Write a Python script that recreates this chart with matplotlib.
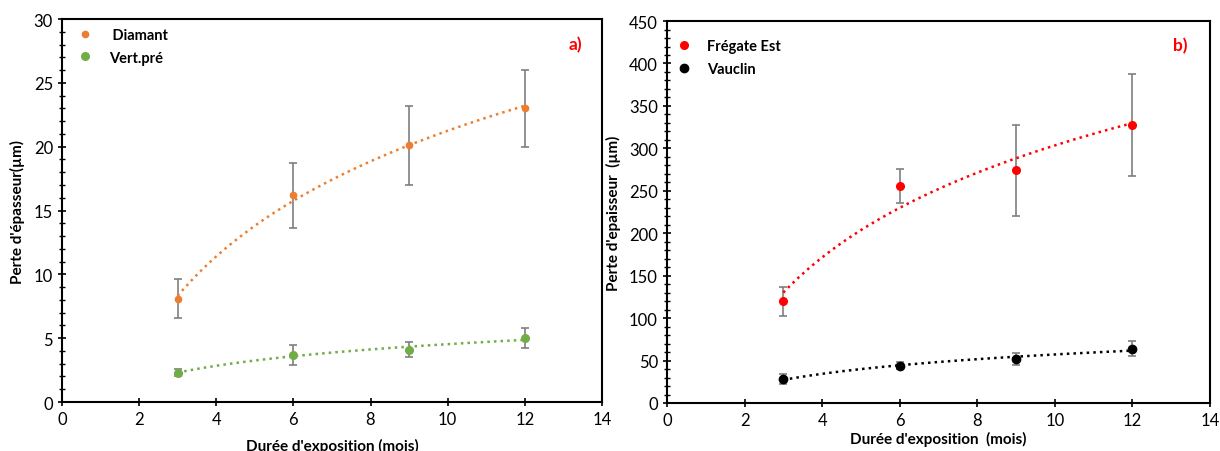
import matplotlib.pyplot as plt
import numpy as np

plt.rcParams['font.family'] = ['Lato', 'DejaVu Sans']

# durations (months)
mois = [3, 6, 9, 12]

# panel a
diamant = [8.1, 16.2, 20.1, 23.0]
diamant_err = [1.5, 2.55, 3.1, 3.0]
vertpre = [2.3, 3.7, 4.1, 5.0]
vertpre_err = [0.3, 0.8, 0.6, 0.8]

# panel b
fregate = [120, 256, 274, 328]
fregate_err = [17, 20, 54, 60]
vauclin = [28, 44, 52, 64]
vauclin_err = [6, 4, 7, 9]

fig = plt.figure(figsize=(12.2, 4.52), dpi=100)
ax1 = fig.add_axes([0.0508, 0.1084, 0.4426, 0.8473])
ax2 = fig.add_axes([0.5467, 0.1062, 0.445, 0.845])


def serie(ax, y, err, color, label, ms=5):
    x = np.array(mois, dtype=float)
    ax.errorbar(x, y, yerr=err, fmt='none', ecolor='#7f7f7f', elinewidth=1.2,
                capsize=3, capthick=1.2, zorder=2)
    ax.plot(x, y, 'o', color=color, ms=ms, label=label, zorder=4, linestyle='none')
    # logarithmic trend line
    a, b = np.polyfit(np.log(x), y, 1)
    xx = np.linspace(3, 12, 200)
    ax.plot(xx, a * np.log(xx) + b, ':', color=color, lw=1.8, zorder=3)


serie(ax1, diamant, diamant_err, '#ED7D31', ' Diamant', ms=4.5)
serie(ax1, vertpre, vertpre_err, '#70AD47', 'Vert.pré', ms=5.5)
serie(ax2, fregate, fregate_err, '#FF0000', 'Frégate Est', ms=5.5)
serie(ax2, vauclin, vauclin_err, '#000000', 'Vauclin', ms=6)

for ax, ymax, ystep, ymin_step in [(ax1, 30, 5, 1), (ax2, 450, 50, 10)]:
    ax.set_xlim(0, 14)
    ax.set_ylim(0, ymax)
    ax.set_xticks(range(0, 15, 2))
    ax.set_yticks(np.arange(0, ymax + 1, ystep))
    ax.set_yticks(np.arange(0, ymax + 1, ymin_step), minor=True)
    ax.tick_params(axis='both', which='major', direction='inout', length=6,
                   width=1.2, labelsize=12, colors='black')
    ax.tick_params(axis='y', which='minor', direction='inout', length=4, width=1)
    for s in ax.spines.values():
        s.set_linewidth(1.5)

ax1.legend(loc='upper left', frameon=False, handletextpad=0.6,
           prop={'weight': 'bold', 'size': 10.5}, borderaxespad=0.2,
           labelspacing=0.6)
ax2.legend(loc='upper left', bbox_to_anchor=(-0.012, 0.975), frameon=False,
           handletextpad=0.6, prop={'weight': 'bold', 'size': 10.5},
           borderaxespad=0.2, labelspacing=0.6)

ax1.set_xlabel("Durée d'exposition (mois)", fontsize=11, fontweight='bold', labelpad=8)
ax1.set_ylabel("Perte d'épasseur(µm)", fontsize=11, fontweight='bold', labelpad=6)
ax2.set_xlabel("Durée d'exposition  (mois)", fontsize=11, fontweight='bold', labelpad=2)
ax2.set_ylabel("Perte d'epaisseur  (µm)", fontsize=11, fontweight='bold', labelpad=6)

ax1.text(0.95, 0.935, 'a)', transform=ax1.transAxes, color='red',
         fontsize=12.5, fontweight='bold', ha='center', va='center')
ax2.text(0.945, 0.937, 'b)', transform=ax2.transAxes, color='red',
         fontsize=12.5, fontweight='bold', ha='center', va='center')

fig.savefig('out.png', dpi=100)
